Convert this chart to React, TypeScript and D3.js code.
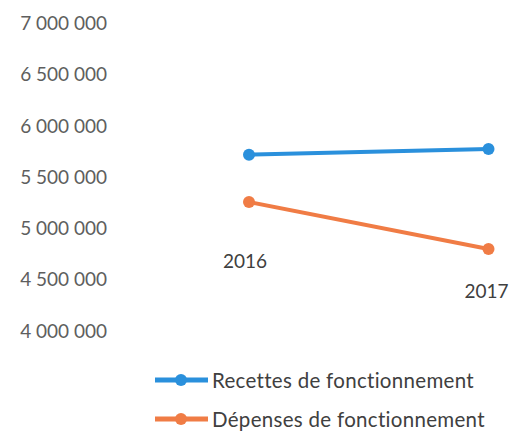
import React from "react";
import * as d3 from "d3";

const years = ["2016", "2017"];
const recettes = [5710000, 5765000];
const depenses = [5248000, 4790000];
const yTicks = [4000000, 4500000, 5000000, 5500000, 6000000, 6500000, 7000000];
const seriesNames = ["Recettes de fonctionnement", "Dépenses de fonctionnement"];
const seriesColors = ["#2a90dc", "#f07c45"];

const W = 513;
const H = 432;
const FONT = "Lato, 'Open Sans', sans-serif";

const fmt = (v: number) => d3.format(",")(v).replace(/,/g, " ");

export default function App() {
  const y = d3.scaleLinear().domain([4000000, 7000000]).range([330, 22.5]);
  const x = d3.scalePoint<string>().domain(years).range([249, 488.5]);
  const line = d3
    .line<number>()
    .x((_, i) => x(years[i]) as number)
    .y((d) => y(d));
  const series = [recettes, depenses];
  const yearLabelOffsets = [58, 41];

  return (
    <svg
      width={W}
      height={H}
      style={{ position: "absolute", left: 0, top: 0, background: "#fff" }}
      fontFamily={FONT}
    >
      <rect width={W} height={H} fill="#fff" />
      {yTicks.map((t) => (
        <text
          key={t}
          x={107}
          y={y(t)}
          textAnchor="end"
          dominantBaseline="central"
          fontSize={19}
          fill="#5e5e5e"
        >
          {fmt(t)}
        </text>
      ))}
      {series.map((s, si) => (
        <g key={si}>
          <path d={line(s) || ""} fill="none" stroke={seriesColors[si]} strokeWidth={4} />
          {s.map((v, i) => (
            <circle key={i} cx={x(years[i])} cy={y(v)} r={6} fill={seriesColors[si]} />
          ))}
        </g>
      ))}
      {years.map((yr, i) => (
        <text
          key={yr}
          x={(x(yr) as number) - (i === 0 ? 4 : 2)}
          y={y(depenses[i]) + yearLabelOffsets[i]}
          textAnchor="middle"
          dominantBaseline="central"
          fontSize={19}
          fill="#404040"
        >
          {yr}
        </text>
      ))}
      {seriesNames.map((name, i) => {
        const ly = 380 + i * 39;
        return (
          <g key={name}>
            <line x1={155} x2={208} y1={ly} y2={ly} stroke={seriesColors[i]} strokeWidth={5} />
            <circle cx={181} cy={ly} r={6} fill={seriesColors[i]} />
            <text
              x={212}
              y={ly}
              dominantBaseline="central"
              fontSize={20.5}
              letterSpacing={0.3}
              fill="#404040"
            >
              {name}
            </text>
          </g>
        );
      })}
    </svg>
  );
}
